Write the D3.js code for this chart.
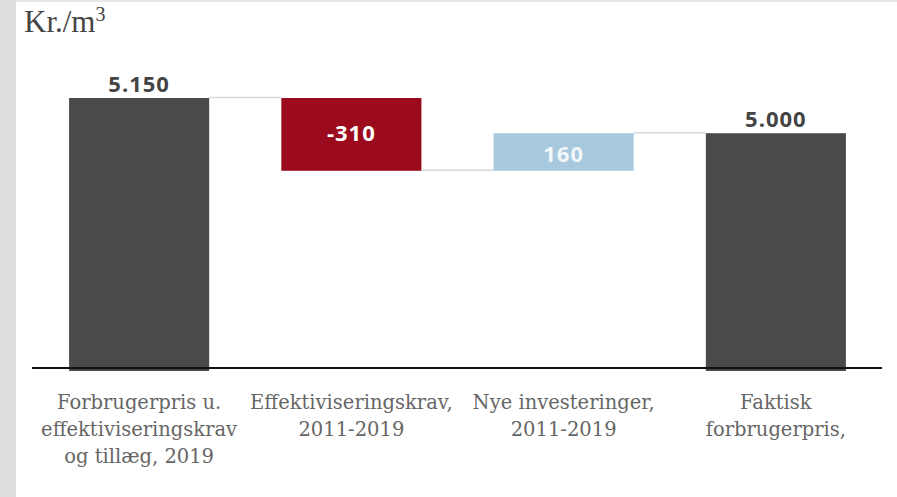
<!DOCTYPE html>
<meta charset="utf-8">
<style>
body { margin: 0; background: #fff; }
svg { display: block; }
.cat { font-family: "DejaVu Serif", serif; font-size: 19.5px; fill: #666; }
.val { font-family: "Open Sans", sans-serif; font-weight: 700; font-size: 22px; letter-spacing: 1px; }
</style>
<body>
<script src="https://cdn.jsdelivr.net/npm/d3@7"></script>
<script>
// waterfall data
var categories = ["Forbrugerpris u.|effektiviseringskrav|og tillæg, 2019",
                  "Effektiviseringskrav,|2011-2019",
                  "Nye investeringer,|2011-2019",
                  "Faktisk|forbrugerpris,"];
var values = [5150, -310, 160, 5000];
var kinds = ["total", "delta", "delta", "total"];
var valueLabels = ["5.150", "-310", "160", "5.000"];

var W = 897, H = 497;
var svg = d3.select("body").append("svg").attr("width", W).attr("height", H);

// frame bits
svg.append("rect").attr("x", 0).attr("y", 0).attr("width", 16).attr("height", H).attr("fill", "#dedede");
svg.append("rect").attr("x", 16).attr("y", 0).attr("width", W - 16).attr("height", 2).attr("fill", "#e6e6e6");

svg.append("text").attr("x", 24).attr("y", 32)
  .style("font-family", "Liberation Serif, serif").style("font-size", "31px").style("fill", "#444")
  .text("Kr./m").append("tspan").attr("dy", -11).style("font-size", "20px").text("3");

var x = d3.scaleBand().domain(d3.range(values.length)).range([33, 882]).paddingInner(0.34).paddingOuter(0.17);
var y = d3.scaleLinear().domain([4000, 5150]).range([368, 98]);

// compute start/end per bar
var run = 0, bars = [];
values.forEach(function (v, i) {
  var b = {i: i};
  if (kinds[i] == "total") { b.y0 = 4000; b.y1 = v; run = v; }
  else { b.y0 = run; b.y1 = run + v; run = run + v; }
  b.end = run;
  bars.push(b);
});

var color = function (b) {
  if (kinds[b.i] == "total") return "#4a4a4a";
  return values[b.i] < 0 ? "#9c0a1d" : "#a8c9dd";
};

// connectors
svg.selectAll(".conn").data(bars.slice(0, -1)).enter().append("line")
  .attr("x1", function (d) { return x(d.i) + x.bandwidth(); })
  .attr("x2", function (d) { return x(d.i + 1); })
  .attr("y1", function (d) { return y(d.end) - 0.5; })
  .attr("y2", function (d) { return y(d.end) - 0.5; })
  .attr("stroke", "#d9d9d9").attr("stroke-width", 1.5);

svg.selectAll(".bar").data(bars).enter().append("rect")
  .attr("x", function (d) { return x(d.i); })
  .attr("width", x.bandwidth())
  .attr("y", function (d) { return y(Math.max(d.y0, d.y1)); })
  .attr("height", function (d) {
    var h = Math.abs(y(d.y0) - y(d.y1));
    return kinds[d.i] == "total" ? h + 3 : h;
  })
  .attr("fill", color);

// axis line
svg.append("line").attr("x1", 32).attr("x2", 882).attr("y1", y(4000)).attr("y2", y(4000))
  .attr("stroke", "#111").attr("stroke-width", 2);

// value labels
svg.selectAll(".val").data(bars).enter().append("text")
  .attr("class", "val")
  .attr("text-anchor", "middle")
  .attr("x", function (d) { return x(d.i) + x.bandwidth() / 2; })
  .attr("y", function (d) {
    if (kinds[d.i] == "total") return y(d.y1) - 6;
    return (y(d.y0) + y(d.y1)) / 2 + (values[d.i] < 0 ? 7 : 10);
  })
  .style("fill", function (d) { return kinds[d.i] == "total" ? "#444" : (values[d.i] < 0 ? "#fff" : "#f2f6f9"); })
  .text(function (d) { return valueLabels[d.i]; });

// category labels
categories.forEach(function (c, i) {
  var t = svg.append("text").attr("class", "cat").attr("text-anchor", "middle")
    .attr("x", x(i) + x.bandwidth() / 2).attr("y", 409);
  c.split("|").forEach(function (line, j) {
    t.append("tspan").attr("x", x(i) + x.bandwidth() / 2).attr("dy", j ? 27 : 0).text(line);
  });
});
</script>
</body>
